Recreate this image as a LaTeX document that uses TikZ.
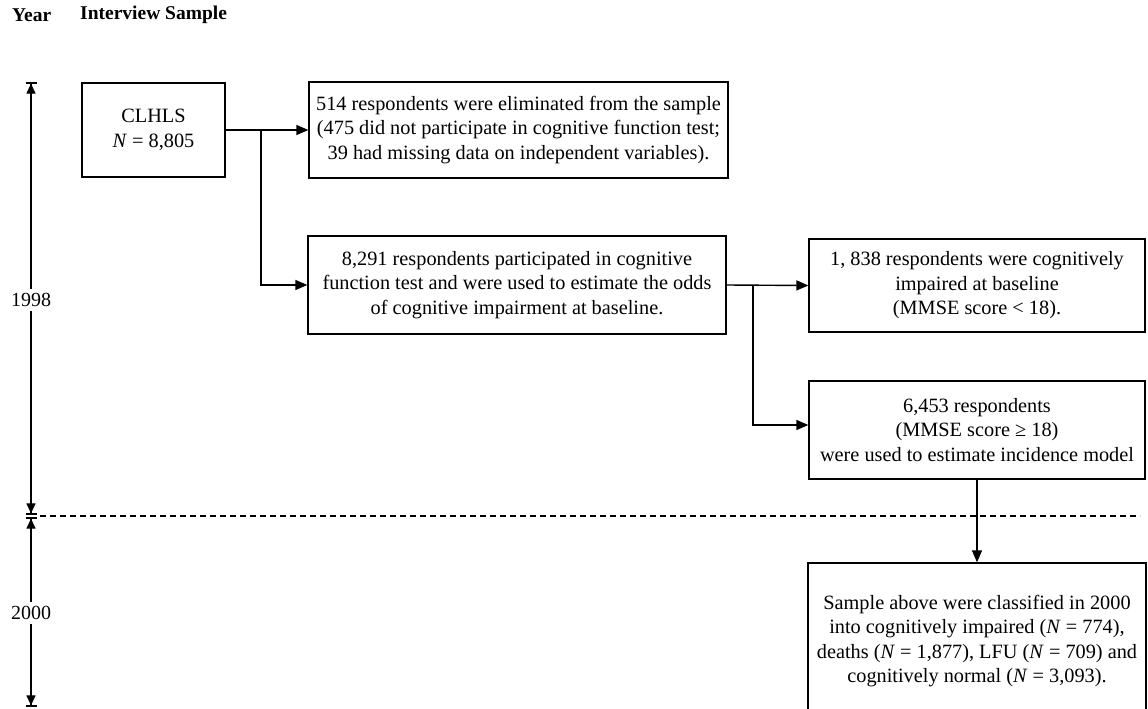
\documentclass[tikz,border=0pt]{standalone}
\usepackage{fontspec}
\setmainfont{Liberation Serif}
\usetikzlibrary{arrows.meta}

\tikzset{
  stagebox/.style={draw, line width=1.3pt, align=center, inner sep=0pt,
    font=\fontsize{20.3}{24.5}\selectfont},
  flow/.style={line width=1.4pt, -{Triangle[length=12pt,width=10pt]}},
  yearline/.style={line width=1.1pt,
    {Bar[width=11pt,line width=1.6pt]Triangle[length=10pt,width=9pt]}-{Triangle[length=10pt,width=9pt]Bar[width=11pt,line width=1.6pt]}},
  yearlabel/.style={fill=white, inner xsep=1pt, inner ysep=4pt, font=\fontsize{20}{24}\selectfont},
  header/.style={anchor=west, inner sep=0pt, font=\fontsize{19.5}{24}\selectfont\bfseries}
}

\begin{document}
\begin{tikzpicture}[x=1pt, y=-1pt]
  \useasboundingbox (0,0) rectangle (1148,709);

  % column headers
  \node[header] (hyear) at (12,15) {Year};
  \node[header] (hsample) at (80,15) {Interview Sample};

  % time axis
  \coordinate (t0) at (31,82);
  \coordinate (t1) at (31,515);
  \coordinate (t2) at (31,517);
  \coordinate (t3) at (31,707);
  \draw[yearline] (t0) -- (t1);
  \draw[yearline] (t2) -- (t3);
  \node[yearlabel] (y98) at (31,300) {1998};
  \node[yearlabel] (y00) at (31,613) {2000};

  % wave boundary
  \coordinate (wl) at (40,516);
  \coordinate (wr) at (1140,516);
  \draw[line width=1.1pt, dash pattern=on 6pt off 4pt] (wl) -- (wr);

  % boxes
  \node[stagebox, minimum width=143pt, minimum height=94pt] (clhls) at (153.5,130)
    {CLHLS\\\textit{N} = 8,805};
  \node[stagebox, minimum width=419pt, minimum height=96pt] (elim) at (518.5,130)
    {514 respondents were eliminated from the sample\\
     (475 did not participate in cognitive function test;\\
     39 had missing data on independent variables).};
  \node[stagebox, minimum width=418pt, minimum height=98pt] (part) at (517,285)
    {8,291 respondents participated in cognitive\\
     function test and were used to estimate the odds\\
     of cognitive impairment at baseline.};
  \node[stagebox, minimum width=336pt, minimum height=93pt] (impaired) at (977,285.5)
    {1, 838 respondents were cognitively\\
     impaired at baseline\\
     (MMSE score < 18).};
  \node[stagebox, minimum width=336pt, minimum height=98pt] (normal) at (977,430)
    {6,453 respondents\\
     (MMSE score ≥ 18)\\
     were used to estimate incidence model};
  \node[stagebox, minimum width=338pt, minimum height=156pt] (followup) at (977,641)
    {Sample above were classified in 2000\\
     into cognitively impaired (\textit{N} = 774),\\
     deaths (\textit{N} = 1,877), LFU (\textit{N} = 709) and\\
     cognitively normal (\textit{N} = 3,093).};

  % connectors
  \coordinate (split1) at (261,130);
  \coordinate (split2) at (753,285);
  \draw[flow] (clhls.east) -- (elim.west);
  \draw[flow] (split1) |- (part.west);
  \draw[flow] (part.east) -- (impaired.west);
  \draw[flow] (split2) |- ([yshift=5pt]normal.west);
  \draw[flow] (normal.south) -- (followup.north);
\end{tikzpicture}
\end{document}
